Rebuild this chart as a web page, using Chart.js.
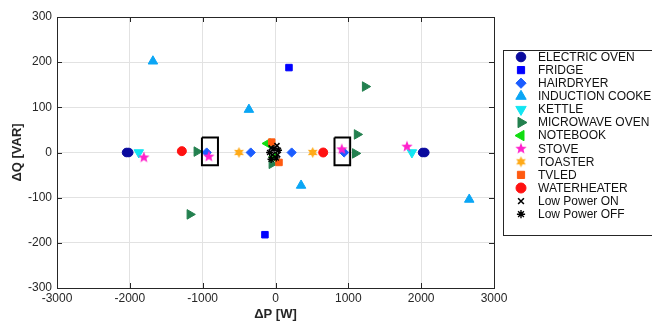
<!DOCTYPE html>
<html>
<head>
<meta charset="utf-8">
<script src="https://cdn.jsdelivr.net/npm/chart.js@4.4.1/dist/chart.umd.min.js"></script>
<style>
  html, body { margin: 0; padding: 0; background: #fff; overflow: hidden; }
  #wrap { width: 652px; height: 322px; }
</style>
</head>
<body>
<div id="wrap"><canvas id="c"></canvas></div>
<script>
// ---- data (dP [W], dQ [VAR]) ----
const electricOven = [{x: -2045, y: 0}, {x: -2015, y: 0}, {x: 2020, y: 0}, {x: 2050, y: 0}];
const fridge = [{x: 185, y: 188}, {x: -145, y: -182}];
const hairdryer = [{x: -945, y: 0}, {x: -340, y: 0}, {x: 222, y: 0}, {x: 942, y: 0}];
const inductionCooker = [{x: -1683, y: 202}, {x: -365, y: 95}, {x: 351, y: -73}, {x: 2660, y: -104}];
const kettle = [{x: -1877, y: 0}, {x: 1873, y: 0}];
const microwaveOven = [{x: -1176, y: -137}, {x: -1080, y: 2}, {x: -50, y: -25}, {x: 1095, y: -2}, {x: 1120, y: 40}, {x: 1231, y: 146}];
const notebook = [{x: -110, y: 20}, {x: -20, y: -10}];
const stove = [{x: -1808, y: -11}, {x: -915, y: -9}, {x: 910, y: 7}, {x: 1805, y: 13}];
const toaster = [{x: -502, y: 0}, {x: 511, y: 0}];
const tvled = [{x: -52, y: 23}, {x: 48, y: -22}];
const waterheater = [{x: -1286, y: 3}, {x: 655, y: 0}];
const lowPowerOn = [{x: -60, y: 10}, {x: 20, y: 15}, {x: -40, y: -5}, {x: 30, y: -5}];
const lowPowerOff = [{x: -80, y: 0}, {x: -20, y: 8}, {x: 10, y: -12}, {x: -60, y: -15}, {x: 40, y: 5}];

// highlighted boxes
const boxLeft = [{x: -1010, y: 33}, {x: -790, y: 33}, {x: -790, y: -28}, {x: -1010, y: -28}, {x: -1010, y: 33}];
const boxRight = [{x: 810, y: 33}, {x: 1025, y: 33}, {x: 1025, y: -28}, {x: 810, y: -28}, {x: 810, y: 33}];

const xTicks = [-3000, -2000, -1000, 0, 1000, 2000, 3000];
const yTicks = [-300, -200, -100, 0, 100, 200, 300];

const FONT = "'Liberation Sans', Arial, sans-serif";

function starImage(n, outer, inner, color) {
  const c = document.createElement('canvas');
  const s = Math.ceil(outer * 2 + 2);
  c.width = c.height = s;
  const g = c.getContext('2d');
  g.translate(s / 2, s / 2);
  g.beginPath();
  for (let i = 0; i < 2 * n; i++) {
    const r = i % 2 ? inner : outer;
    const a = -Math.PI / 2 + i * Math.PI / n;
    g.lineTo(r * Math.cos(a), r * Math.sin(a));
  }
  g.closePath();
  g.fillStyle = color;
  g.fill();
  return c;
}

function series(label, data, color, style, radius, extra) {
  return Object.assign({
    label: label,
    data: data,
    backgroundColor: color,
    borderColor: color,
    pointStyle: style,
    pointRadius: radius,
    pointHoverRadius: radius,
    pointBorderWidth: 1,
    pointRotation: 0
  }, extra || {});
}

const appliances = [
  series('ELECTRIC OVEN', electricOven, '#0a0a9e', 'circle', 4.3),
  series('FRIDGE', fridge, '#0000ff', 'rect', 4.6),
  series('HAIRDRYER', hairdryer, '#1a5cff', 'rectRot', 4.6),
  series('INDUCTION COOKER', inductionCooker, '#0aa6f5', 'triangle', 5.5),
  series('KETTLE', kettle, '#12e6f2', 'triangle', 5.5, {pointRotation: 180}),
  series('MICROWAVE OVEN', microwaveOven, '#23804f', 'triangle', 5.5, {pointRotation: 90}),
  series('NOTEBOOK', notebook, '#11dd11', 'triangle', 5.5, {pointRotation: -90}),
  series('STOVE', stove, '#ff22cc', starImage(5, 6, 2.6, '#ff22cc'), 5),
  series('TOASTER', toaster, '#ffaa18', starImage(6, 5.5, 3, '#ffaa18'), 5),
  series('TVLED', tvled, '#ff5a10', 'rect', 4.6),
  series('WATERHEATER', waterheater, '#ff1111', 'circle', 4.5),
  series('Low Power ON', lowPowerOn, '#000000', 'crossRot', 3.6, {pointBorderWidth: 1.6}),
  series('Low Power OFF', lowPowerOff, '#000000', 'star', 3.6, {pointBorderWidth: 1.4})
];
// later series on top, as in the original plot
appliances.forEach((d, i) => { d.order = 100 - i; });

const boxes = [boxLeft, boxRight].map(b => ({
  label: '',
  data: b,
  showLine: true,
  borderColor: '#000',
  borderWidth: 2,
  pointRadius: 0,
  fill: false,
  order: 0
}));

const framePlugin = {
  id: 'frame',
  afterDraw(chart) {
    const {ctx, chartArea: a, scales} = chart;
    ctx.save();
    ctx.strokeStyle = '#262626';
    ctx.lineWidth = 1;
    ctx.strokeRect(Math.round(a.left) + 0.5, Math.round(a.top) + 0.5,
      Math.round(a.right - a.left), Math.round(a.bottom - a.top));
    ctx.beginPath();
    xTicks.forEach(v => {
      const px = Math.round(scales.x.getPixelForValue(v)) + 0.5;
      ctx.moveTo(px, a.bottom); ctx.lineTo(px, a.bottom - 5);
      ctx.moveTo(px, a.top); ctx.lineTo(px, a.top + 5);
    });
    yTicks.forEach(v => {
      const py = Math.round(scales.y.getPixelForValue(v)) + 0.5;
      ctx.moveTo(a.left, py); ctx.lineTo(a.left + 5, py);
      ctx.moveTo(a.right, py); ctx.lineTo(a.right - 5, py);
    });
    ctx.stroke();

    // legend
    const lx = 503.5, ly = 50.5;
    ctx.fillStyle = '#fff';
    ctx.fillRect(lx, ly, 200, 185);
    ctx.strokeStyle = '#262626';
    ctx.strokeRect(lx, ly, 200, 185);
    ctx.font = '12px ' + FONT;
    ctx.textBaseline = 'middle';
    ctx.textAlign = 'left';
    appliances.forEach((d, i) => {
      const y = 57 + i * 13.1;
      ctx.fillStyle = d.backgroundColor;
      ctx.strokeStyle = d.borderColor;
      ctx.lineWidth = d.pointBorderWidth;
      Chart.helpers.drawPoint(ctx, {
        pointStyle: d.pointStyle,
        rotation: d.pointRotation,
        radius: d.pointRadius + 0.5,
        borderWidth: d.pointBorderWidth
      }, 521, y);
      ctx.fillStyle = '#111';
      ctx.fillText(d.label, 538, y + 0.5);
    });
    ctx.restore();
  }
};

new Chart(document.getElementById('c'), {
  type: 'scatter',
  data: { datasets: appliances.concat(boxes) },
  options: {
    responsive: true,
    maintainAspectRatio: false,
    animation: false,
    events: [],
    layout: { padding: { top: 17, right: 158, left: 0, bottom: 0 } },
    plugins: { legend: { display: false }, tooltip: { enabled: false } },
    scales: {
      x: {
        type: 'linear',
        min: -3000, max: 3000,
        afterBuildTicks(scale) { scale.ticks = xTicks.map(v => ({value: v})); },
        afterFit(scale) { scale.height = 34; },
        grid: { color: '#e2e2e2', drawTicks: false },
        border: { display: false },
        ticks: { padding: 3, color: '#262626', font: { family: FONT, size: 12 },
          callback: v => String(v) },
        title: { display: true, text: 'ΔP [W]', color: '#262626', padding: 0,
          font: { family: FONT, size: 13, weight: 'bold' } }
      },
      y: {
        type: 'linear',
        min: -300, max: 300,
        afterBuildTicks(scale) { scale.ticks = yTicks.map(v => ({value: v})); },
        afterFit(scale) { scale.width = 57; },
        grid: { color: '#e2e2e2', drawTicks: false },
        border: { display: false },
        ticks: { padding: 5, color: '#262626', font: { family: FONT, size: 12 },
          callback: v => String(v) },
        title: { display: true, text: 'ΔQ [VAR]', color: '#262626', padding: { top: 10, bottom: 0 },
          font: { family: FONT, size: 13, weight: 'bold' } }
      }
    }
  },
  plugins: [framePlugin]
});
</script>
</body>
</html>
